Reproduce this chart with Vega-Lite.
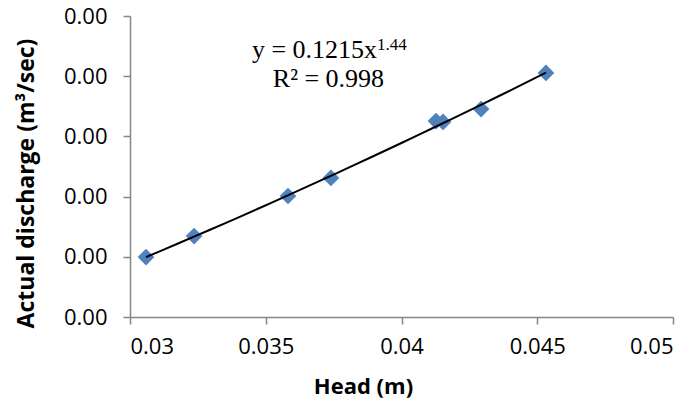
{
  "$schema": "https://vega.github.io/schema/vega-lite/v6.json",
  "width": 543,
  "height": 301,
  "autosize": "none",
  "padding": {"left": 130, "top": 16, "right": 23, "bottom": 84},
  "background": "white",
  "config": {
    "view": {"stroke": null},
    "axis": {
      "grid": false,
      "domainColor": "#868686",
      "tickColor": "#868686",
      "domainWidth": 1.5,
      "tickWidth": 1.5,
      "tickSize": 7,
      "labelFont": "Open Sans",
      "labelFontSize": 22,
      "labelColor": "#000000",
      "titleFont": "Open Sans",
      "titleFontWeight": "bold",
      "titleColor": "#000000"
    }
  },
  "datasets": {
    "points": [
      {"head": 0.03059, "q": 0.000799},
      {"head": 0.03236, "q": 0.000869},
      {"head": 0.03582, "q": 0.001002},
      {"head": 0.03740, "q": 0.001062},
      {"head": 0.04127, "q": 0.001251},
      {"head": 0.04153, "q": 0.001248},
      {"head": 0.04293, "q": 0.001291},
      {"head": 0.04532, "q": 0.001411}
    ]
  },
  "layer": [
    {
      "data": {"name": "points"},
      "mark": {"type": "point", "shape": "diamond", "filled": true, "size": 280, "color": "#4F81BD", "opacity": 1},
      "encoding": {
        "x": {
          "field": "head", "type": "quantitative",
          "scale": {"domain": [0.03, 0.05], "nice": false, "zero": false},
          "axis": {"values": [0.03, 0.035, 0.04, 0.045, 0.05], "format": "~g", "title": "Head (m)", "labelPadding": 12, "titleFontSize": 22, "titleX": 233, "titleY": 76, "titleBaseline": "alphabetic", "titleAlign": "center"}
        },
        "y": {
          "field": "q", "type": "quantitative",
          "scale": {"domain": [0.0006, 0.0016], "nice": false, "zero": false},
          "axis": {"values": [0.0006, 0.0008, 0.001, 0.0012, 0.0014, 0.0016], "format": ".2f", "title": "Actual discharge (m³/sec)", "labelPadding": 16, "titleFontSize": 23, "titleX": -104, "titleY": 167, "titleBaseline": "middle", "titleAlign": "center", "titleAngle": 270}
        }
      }
    },
    {
      "data": {"name": "points"},
      "transform": [{"regression": "q", "on": "head", "method": "pow"}],
      "mark": {"type": "line", "color": "#000000", "strokeWidth": 2},
      "encoding": {
        "x": {"field": "head", "type": "quantitative"},
        "y": {"field": "q", "type": "quantitative"}
      }
    },
    {
      "data": {"values": [{"label": "y = 0.1215x"}]},
      "mark": {"type": "text", "font": "Liberation Serif", "fontSize": 26, "align": "right", "baseline": "alphabetic", "color": "#000000"},
      "encoding": {
        "x": {"datum": 0.0391},
        "y": {"datum": 0.0014605},
        "text": {"field": "label"}
      }
    },
    {
      "data": {"values": [{"label": "1.44"}]},
      "mark": {"type": "text", "font": "Liberation Serif", "fontSize": 17, "align": "left", "baseline": "alphabetic", "color": "#000000"},
      "encoding": {
        "x": {"datum": 0.0391},
        "y": {"datum": 0.001487},
        "text": {"field": "label"}
      }
    },
    {
      "data": {"values": [{"label": "R² = 0.998"}]},
      "mark": {"type": "text", "font": "Liberation Serif", "fontSize": 26, "align": "center", "baseline": "alphabetic", "color": "#000000"},
      "encoding": {
        "x": {"datum": 0.03731},
        "y": {"datum": 0.0013641},
        "text": {"field": "label"}
      }
    }
  ]
}
